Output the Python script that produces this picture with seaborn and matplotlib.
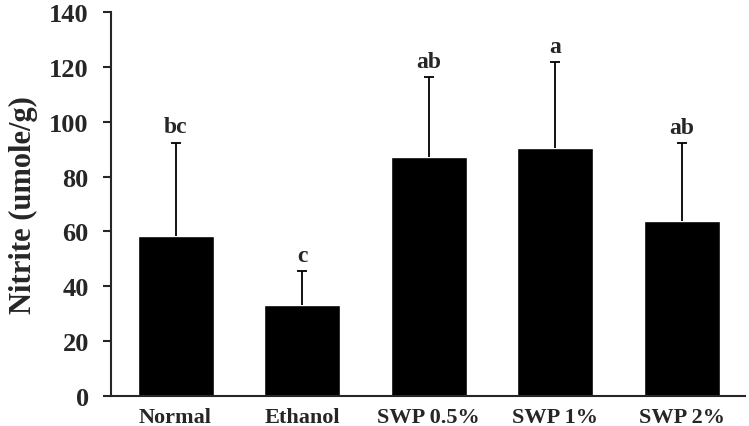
import numpy as np
import pandas as pd
import matplotlib
matplotlib.use("Agg")
import matplotlib.pyplot as plt
import seaborn as sns

groups = ["Normal", "Ethanol", "SWP 0.5%", "SWP 1%", "SWP 2%"]
nitrite = [58.4, 33.2, 87.2, 90.4, 63.7]
sd = [34.0, 12.3, 29.1, 31.2, 28.4]
letters = ["bc", "c", "ab", "a", "ab"]

sns.set_style("ticks")
plt.rcParams["font.family"] = ["Liberation Serif", "DejaVu Serif"]
plt.rcParams["font.weight"] = "bold"

df = pd.DataFrame({"group": groups, "nitrite": nitrite})

fig = plt.figure(figsize=(7.49, 4.27), dpi=100)
ax = fig.add_axes([111 / 749, 30 / 427, 634 / 749, 384 / 427])

sns.barplot(data=df, x="group", y="nitrite", color="black", width=0.6,
            saturation=1, errorbar=None, ax=ax)

# upper error bars only, drop the cap at the bar top
x = np.arange(len(groups))
eb = ax.errorbar(x, nitrite, yerr=[np.zeros(len(sd)), sd], fmt="none",
                 ecolor="black", elinewidth=1.3, capsize=3.5, capthick=1.3)
eb[1][0].set_visible(False)

for xi, v, e, t in zip(x, nitrite, sd, letters):
    ax.text(xi, v + e + 2, t, ha="center", va="bottom",
            fontsize=17, fontweight="bold")

ax.set_ylim(0, 140)
ax.set_xlim(-0.51, 4.5)
ax.set_yticks(range(0, 141, 20))
ax.set_xlabel("")
ax.set_ylabel("Nitrite (umole/g)", fontsize=22, fontweight="bold", labelpad=8)
ax.tick_params(axis="y", labelsize=19, length=6, width=1.5, direction="out", pad=10)
ax.tick_params(axis="x", labelsize=16, length=0, pad=8)
for lab in ax.get_xticklabels() + ax.get_yticklabels():
    lab.set_fontweight("bold")

sns.despine(ax=ax)
ax.spines["left"].set_linewidth(1.5)
ax.spines["bottom"].set_linewidth(1.5)

fig.savefig("out.png", dpi=100)
